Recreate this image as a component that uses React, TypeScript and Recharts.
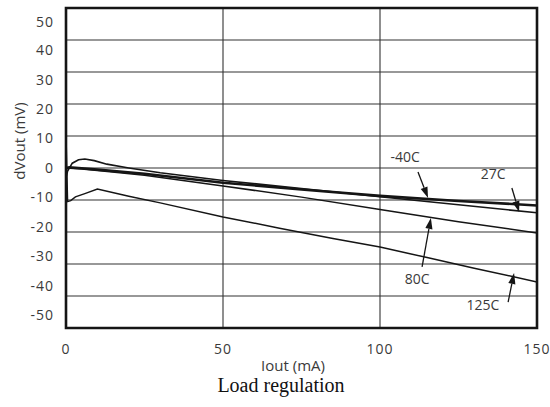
import { CartesianGrid, Label, Line, LineChart, ReferenceArea, ReferenceDot, ReferenceLine, XAxis, YAxis } from "recharts";

// Load regulation curves, dVout (mV) vs Iout (mA)
const m40X = [0, 1, 5, 10, 25, 50, 75, 100, 125, 150];
const m40Y = [0, 0.2, -0.1, -0.5, -1.8, -4.6, -6.7, -8.7, -10.3, -11.7];

const c27X = [0, 0.5, 2, 4, 6, 9, 13, 20, 30, 50, 75, 100, 125, 150];
const c27Y = [-3, -1, 1.5, 2.6, 2.8, 2.3, 1.2, 0, -1.5, -3.9, -6.4, -9, -11.5, -14];

const c80X = [0, 5, 10, 25, 50, 75, 100, 125, 150];
const c80Y = [0, -0.3, -0.8, -2.3, -5.6, -9.1, -13, -16.8, -20.3];

const c125X = [0, 0.5, 1.5, 3, 6, 10, 20, 30, 50, 68, 85, 100, 115, 130, 150];
const c125Y = [10, -10.5, -10.2, -9, -8, -6.6, -8.8, -10.9, -15.3, -18.8, -22, -24.7, -28, -31.3, -35.6];

const xTicks = [0, 50, 100, 150];
const yTicks = [-50, -40, -30, -20, -10, 0, 10, 20, 30, 40, 50];

// callouts: text position, arrow tail, arrow head (data units)
const calloutNames = ["-40C", "27C", "80C", "125C"];
const calloutText = [[108, 3.4], [136, -1.9], [111.8, -34.7], [132.8, -42.8]];
const arrowFrom = [[112.1, -1.25], [142, -6.25], [113.4, -30.9], [140.8, -41.9]];
const arrowTo = [[115.3, -9.4], [144.3, -13.75], [116.2, -15.6], [142.7, -32.8]];

const toPoints = (xs: number[], ys: number[]) => xs.map((x, i) => ({ x, y: ys[i] }));

const series = [
  { name: "-40C", data: toPoints(m40X, m40Y), width: 2.6 },
  { name: "27C", data: toPoints(c27X, c27Y), width: 1.6 },
  { name: "80C", data: toPoints(c80X, c80Y), width: 1.5 },
  { name: "125C", data: toPoints(c125X, c125Y), width: 1.5 },
];

const FONT = "'Open Sans', sans-serif";
const TEXT = "#3a3a3a";
const INK = "#151515";
const PLOT_MID = 168;

const YTick = (props: any) => {
  const { x, y, payload } = props;
  const yy = PLOT_MID + (y - PLOT_MID) * 0.92;
  return (
    <text x={x} y={yy} dy="0.35em" textAnchor="end" fill={TEXT} fontFamily={FONT} fontSize={14} letterSpacing={1}>
      {payload.value}
    </text>
  );
};

const Arrow = (p: any) => {
  const { x1, y1, x2, y2 } = p;
  const a = Math.atan2(y2 - y1, x2 - x1);
  const len = 11;
  const half = 3.6;
  const bx = x2 - len * Math.cos(a);
  const by = y2 - len * Math.sin(a);
  const nx = -Math.sin(a) * half;
  const ny = Math.cos(a) * half;
  return (
    <g>
      <line x1={x1} y1={y1} x2={bx} y2={by} stroke={INK} strokeWidth={1.3} />
      <polygon points={`${x2},${y2} ${bx + nx},${by + ny} ${bx - nx},${by - ny}`} fill={INK} />
    </g>
  );
};

export default function App() {
  return (
    <div style={{ position: "absolute", left: 0, top: 0, width: 550, height: 407, background: "#fff" }}>
      <LineChart width={550} height={407} margin={{ top: 8, right: 13, bottom: 49, left: 8 }}>
        <CartesianGrid stroke="#333" strokeWidth={1.1} />
        <XAxis
          type="number"
          dataKey="x"
          domain={[0, 150]}
          ticks={xTicks}
          allowDataOverflow
          height={30}
          tickSize={0}
          tickMargin={16}
          axisLine={false}
          tick={{ fill: TEXT, fontFamily: FONT, fontSize: 14, letterSpacing: 1 }}
        >
          <Label
            content={() => (
              <text x={293} y={366} dy="0.35em" textAnchor="middle" fill={TEXT} fontFamily={FONT} fontSize={15}>
                Iout (mA)
              </text>
            )}
          />
        </XAxis>
        <YAxis
          type="number"
          domain={[-50, 50]}
          ticks={yTicks}
          allowDataOverflow
          width={58}
          tickSize={0}
          tickMargin={12}
          axisLine={false}
          tick={<YTick />}
        >
          <Label
            content={() => (
              <text
                x={20}
                y={141}
                dy="0.35em"
                textAnchor="middle"
                transform="rotate(-90 20 141)"
                fill={TEXT}
                fontFamily={FONT}
                fontSize={15}
              >
                dVout (mV)
              </text>
            )}
          />
        </YAxis>
        <ReferenceArea x1={0} x2={150} y1={-50} y2={50} fill="none" stroke={INK} strokeWidth={2.6} />
        {series.map((s) => (
          <Line
            key={s.name}
            data={s.data}
            dataKey="y"
            type="linear"
            stroke={INK}
            strokeWidth={s.width}
            dot={false}
            isAnimationActive={false}
          />
        ))}
        {calloutNames.map((n, i) => (
          <ReferenceLine
            key={"a" + n}
            segment={[
              { x: arrowFrom[i][0], y: arrowFrom[i][1] },
              { x: arrowTo[i][0], y: arrowTo[i][1] },
            ]}
            shape={Arrow}
          />
        ))}
        {calloutNames.map((n, i) => (
          <ReferenceDot
            key={"t" + n}
            x={calloutText[i][0]}
            y={calloutText[i][1]}
            r={0}
            shape={(p: any) => (
              <text x={p.cx} y={p.cy} dy="0.35em" textAnchor="middle" fill={TEXT} fontFamily={FONT} fontSize={14}>
                {n}
              </text>
            )}
          />
        ))}
      </LineChart>
      <div
        style={{
          position: "absolute",
          left: 0,
          width: 562,
          top: 374,
          textAlign: "center",
          fontFamily: "'Liberation Serif', serif",
          fontSize: 20,
          color: "#111",
        }}
      >
        Load regulation
      </div>
    </div>
  );
}
